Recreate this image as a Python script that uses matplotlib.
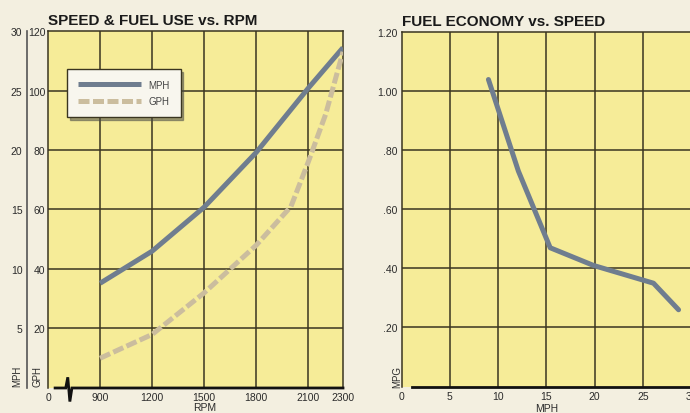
import matplotlib
matplotlib.use("Agg")
import matplotlib.pyplot as plt

plt.rcParams['font.family'] = ['Liberation Sans', 'DejaVu Sans']

# ---- data: left chart ----
rpm_mph = [900, 1200, 1500, 1800, 2100, 2300]
mph = [8.8, 11.5, 15.2, 19.8, 25.2, 28.6]          # on 0-30 MPH scale
rpm_gph = [900, 1200, 1500, 1800, 2000, 2100, 2200, 2300]
gph = [10, 18, 32, 48, 61, 76, 92, 113]            # on 0-120 GPH scale
rpm_ticks = [600, 900, 1200, 1500, 1800, 2100, 2300]
rpm_ticklabels = ['0', '900', '1200', '1500', '1800', '2100', '2300']
mph_ticks = [0, 5, 10, 15, 20, 25, 30]
mph_ticklabels = ['', '5', '10', '15', '20', '25', '30']
gph_ticks = [20, 40, 60, 80, 100, 120]
gph_ticklabels = ['20', '40', '60', '80', '100', '120']

# ---- data: right chart ----
speed = [9.0, 12.1, 15.4, 19.9, 26.1, 28.7]
mpg = [1.04, 0.73, 0.47, 0.41, 0.35, 0.26]
speed_ticks = [0, 5, 10, 15, 20, 25, 30]
mpg_ticks = [0.2, 0.4, 0.6, 0.8, 1.0, 1.2]
mpg_ticklabels = ['.20', '.40', '.60', '.80', '1.00', '1.20']

BG = '#f3efe0'
PLOT = '#f6ec98'
GRID = '#3a3520'
C_MPH = '#6f7d8f'
C_GPH = '#cbbd9e'
TXT = '#2b2b2b'

fig = plt.figure(figsize=(6.9, 4.14), dpi=100, facecolor=BG)

# ================= left chart =================
ax = fig.add_axes([0.0696, 0.0604, 0.4275, 0.8623])
ax.set_facecolor(PLOT)
ax.set_xlim(600, 2300)
ax.set_ylim(0, 30)
ax.set_xticks(rpm_ticks)
ax.set_xticklabels(rpm_ticklabels)
ax.set_yticks(mph_ticks)
ax.set_yticklabels(mph_ticklabels)
ax.tick_params(axis='y', length=0, pad=18.5, labelsize=7.5, colors=TXT)
ax.tick_params(axis='x', length=0, pad=3, labelsize=7.5, colors=TXT)
for x in rpm_ticks[1:-1]:
    ax.axvline(x, color=GRID, lw=1.1, zorder=1)
for y in mph_ticks[1:-1]:
    ax.axhline(y, color=GRID, lw=1.1, zorder=1)
for s in ['left', 'top', 'right']:
    ax.spines[s].set_color(GRID)
    ax.spines[s].set_linewidth(1.1)
ax.spines['bottom'].set_visible(False)
l_mph, = ax.plot(rpm_mph, mph, color=C_MPH, lw=3.6, solid_capstyle='butt', zorder=3)

ax2 = ax.twinx()
ax2.set_ylim(0, 120)
ax2.yaxis.tick_left()
ax2.set_yticks(gph_ticks)
ax2.set_yticklabels(gph_ticklabels)
ax2.tick_params(axis='y', length=0, pad=2, labelsize=7.5, colors=TXT)
for s in ax2.spines.values():
    s.set_visible(False)
l_gph, = ax2.plot(rpm_gph, gph, color=C_GPH, lw=3.6, dashes=(2.2, 0.7),
                  dash_capstyle='butt', zorder=3)

leg = ax2.legend([l_mph, l_gph], ['MPH', 'GPH'], loc='upper left',
                 bbox_to_anchor=(0.064, 0.894), borderaxespad=0,
                 fontsize=7, handlelength=6.5, handletextpad=0.8,
                 borderpad=1.1, labelspacing=0.7, frameon=True,
                 fancybox=False, shadow=True, framealpha=1)
leg.get_frame().set_facecolor('#f8f6ee')
leg.get_frame().set_edgecolor(GRID)
leg.get_frame().set_linewidth(1.0)
for t in leg.get_texts():
    t.set_color('#444444')

# divider line between the two y label columns
ax.plot([-0.072, -0.072], [0, 1.0], transform=ax.transAxes, color='#555555',
        lw=1.2, clip_on=False)
# bottom axis with break mark
bx = [0.024, 0.060, 0.067, 0.074, 0.081, 1.0]
by = [0.0, 0.0, 0.030, -0.038, 0.0, 0.0]
ax.plot(bx, by, transform=ax.transAxes, color='#111111', lw=2.0,
        clip_on=False, solid_joinstyle='miter', zorder=5)

ax.text(-0.105, 0.035, 'MPH', transform=ax.transAxes, rotation=90,
        ha='center', va='center', fontsize=7, color=TXT)
ax.text(-0.034, 0.035, 'GPH', transform=ax.transAxes, rotation=90,
        ha='center', va='center', fontsize=7, color=TXT)
ax.set_xlabel('RPM', fontsize=7.5, color=TXT)
ax.xaxis.set_label_coords(0.532, -0.040)
ax.set_title('SPEED & FUEL USE vs. RPM', loc='left', fontsize=11,
             fontweight='bold', color='#1a1a1a', pad=5)

# ================= right chart =================
ax3 = fig.add_axes([0.582, 0.064, 0.4196, 0.8556])
ax3.set_facecolor(PLOT)
ax3.set_xlim(0, 30)
ax3.set_ylim(0, 1.2)
ax3.set_xticks(speed_ticks)
ax3.set_xticklabels([str(v) for v in speed_ticks])
ax3.set_yticks(mpg_ticks)
ax3.set_yticklabels(mpg_ticklabels)
ax3.tick_params(axis='both', length=0, labelsize=7.5, colors=TXT)
ax3.tick_params(axis='y', pad=3)
ax3.tick_params(axis='x', pad=3)
for x in speed_ticks[1:-1]:
    ax3.axvline(x, color=GRID, lw=1.1, zorder=1)
for y in mpg_ticks[:-1]:
    ax3.axhline(y, color=GRID, lw=1.1, zorder=1)
for s in ['left', 'top', 'right']:
    ax3.spines[s].set_color(GRID)
    ax3.spines[s].set_linewidth(1.1)
ax3.spines['bottom'].set_visible(False)
ax3.plot([0.036, 1.0], [0, 0], transform=ax3.transAxes, color='#111111',
         lw=2.0, clip_on=False, zorder=5)
ax3.plot(speed, mpg, color=C_MPH, lw=3.6, solid_capstyle='round',
         solid_joinstyle='round', zorder=3)
ax3.text(-0.016, 0.03, 'MPG', transform=ax3.transAxes, rotation=90,
         ha='center', va='center', fontsize=7, color=TXT)
ax3.set_xlabel('MPH', fontsize=7.5, color=TXT)
ax3.xaxis.set_label_coords(0.5, -0.047)
ax3.set_title('FUEL ECONOMY vs. SPEED', loc='left', fontsize=11,
              fontweight='bold', color='#1a1a1a', pad=5)

fig.savefig('out.png', dpi=100, facecolor=BG)
